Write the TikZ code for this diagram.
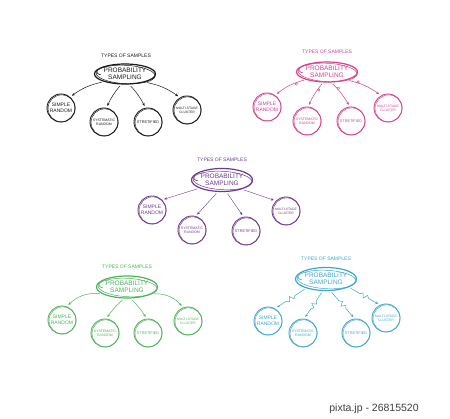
\documentclass[tikz,border=0pt]{standalone}
\usepackage{fontspec}
\setmainfont{Liberation Sans}
\usetikzlibrary{shapes.geometric,arrows.meta,decorations.markings,calc}
\definecolor{cblack}{HTML}{1A1A1A}
\definecolor{cpink}{HTML}{D4418E}
\definecolor{cpurple}{HTML}{6E3A91}
\definecolor{cgreen}{HTML}{4DB35A}
\definecolor{cblue}{HTML}{3FA6D4}
\tikzset{
 bub/.style={circle,draw,line width=0.9pt,minimum size=28pt,inner sep=0pt,align=center,font=\fontsize{5}{5.6}\selectfont},
 smallbub/.style={bub,font=\fontsize{3.5}{4.1}\selectfont},
 multibub/.style={bub,font=\fontsize{3.3}{3.9}\selectfont},
 strbub/.style={bub,font=\fontsize{3.8}{4.4}\selectfont},
 mainnode/.style={ellipse,draw,line width=1.2pt,minimum width=61pt,minimum height=20pt,inner sep=0pt,align=center,font=\fontsize{6.5}{7.2}\selectfont},
 titlenode/.style={font=\fontsize{5}{6}\selectfont},
 conn/.style={line width=0.5pt,shorten <=2pt,shorten >=2pt,-{Stealth[length=3pt,width=2.5pt]}},
 ring/.style={line width=0.4pt},
 curl/.style={postaction={decorate},decoration={markings,mark=at position 0.3 with {\draw[line width=0.4pt] (0,1.2pt) circle (1.2pt);}}},
}
\newcommand\sketch[2]{%
  \draw[ring,#2] ([shift={(0.6pt,-0.4pt)}]#1.center) circle (13.5pt);}
\newcommand\sketchmain[2]{%
  \draw[line width=0.5pt,#2] ([shift={(0.6pt,-0.5pt)}]#1.center) ellipse [x radius=29.5pt,y radius=9.2pt,rotate=-3];
  \draw[line width=0.6pt,#2] ([shift={(3pt,3pt)}]#1.west) arc[start angle=170,end angle=290,radius=3pt];}
% lightning connector: #1 start, #2 end
\newcommand\bolt[2]{%
  \draw[conn] (#1) -- ($(#1)!0.36!(#2)$) -- ($(#1)!0.43!(#2)!2.2pt!90:(#2)$)
    -- ($(#1)!0.5!(#2)!2.2pt!-90:(#2)$) -- ($(#1)!0.57!(#2)!2.2pt!90:(#2)$)
    -- ($(#1)!0.64!(#2)$) -- (#2);}
\begin{document}
\begin{tikzpicture}[x=1pt,y=-1pt]
\useasboundingbox[fill=white] (0,0) rectangle (450,419);

% ---------- panel 1 black
\begin{scope}[cblack, every node/.append style={text=cblack}]
\node[titlenode] (t1) at (126,56) {TYPES OF SAMPLES};
\node[mainnode] (e1) at (125,74) {PROBABILITY\\SAMPLING};
\node[bub] (s1) at (61,108) {SIMPLE\\RANDOM};
\node[smallbub] (y1) at (104,122) {SYSTEMATIC\\RANDOM};
\node[strbub] (r1) at (148,122) {STRETIFIED};
\node[multibub] (m1) at (187,110) {MULTI-STAGE\\CLUSTER};
\sketchmain{e1}{cblack}
\sketch{s1}{cblack}\sketch{y1}{cblack}\sketch{r1}{cblack}\sketch{m1}{cblack}
\draw[conn] (e1.200) to[bend right=12] (s1.50);
\draw[conn] (e1.250) to[bend right=8] (y1.80);
\draw[conn] (e1.292) to[bend left=8] (r1.100);
\draw[conn] (e1.338) to[bend left=12] (m1.120);
\end{scope}

% ---------- panel 2 pink
\begin{scope}[cpink, every node/.append style={text=cpink}]
\node[titlenode] (t2) at (327,52) {TYPES OF SAMPLES};
\node[mainnode] (e2) at (327,72) {PROBABILITY\\SAMPLING};
\node[bub] (s2) at (267,107) {SIMPLE\\RANDOM};
\node[smallbub] (y2) at (307,121) {SYSTEMATIC\\RANDOM};
\node[strbub] (r2) at (351,121) {STRETIFIED};
\node[multibub] (m2) at (388,108) {MULTI-STAGE\\CLUSTER};
\sketchmain{e2}{cpink}
\sketch{s2}{cpink}\sketch{y2}{cpink}\sketch{r2}{cpink}\sketch{m2}{cpink}
\draw[conn,curl] (e2.200) to[bend right=12] (s2.55);
\draw[conn,curl] (e2.250) to[bend right=8] (y2.85);
\draw[conn,curl] (e2.292) to[bend left=8] (r2.95);
\draw[conn,curl] (e2.338) to[bend left=12] (m2.120);
\end{scope}

% ---------- panel 3 purple
\begin{scope}[cpurple, every node/.append style={text=cpurple}]
\node[titlenode] (t3) at (222,160) {TYPES OF SAMPLES};
\node[mainnode,minimum height=23pt] (e3) at (222,180) {PROBABILITY\\SAMPLING};
\node[bub] (s3) at (152,210) {SIMPLE\\RANDOM};
\node[smallbub] (y3) at (192,230) {SYSTEMATIC\\RANDOM};
\node[strbub] (r3) at (246,231) {STRETIFIED};
\node[multibub] (m3) at (286,211) {MULTI-STAGE\\CLUSTER};
\sketchmain{e3}{cpurple}
\sketch{s3}{cpurple}\sketch{y3}{cpurple}\sketch{r3}{cpurple}\sketch{m3}{cpurple}
\draw[conn,line width=0.4pt] (e3.200) -- (s3.45);
\draw[conn,line width=0.4pt] (e3.250) -- (y3.75);
\draw[conn,line width=0.4pt] (e3.290) -- (r3.100);
\draw[conn,line width=0.4pt] (e3.335) -- (m3.135);
\end{scope}

% ---------- panel 4 green
\begin{scope}[cgreen, every node/.append style={text=cgreen}]
\node[titlenode] (t4) at (127,267) {TYPES OF SAMPLES};
\node[mainnode,minimum height=22pt] (e4) at (127,287) {PROBABILITY\\SAMPLING};
\node[bub] (s4) at (62,320) {SIMPLE\\RANDOM};
\node[smallbub] (y4) at (105,333) {SYSTEMATIC\\RANDOM};
\node[strbub] (r4) at (148,333) {STRETIFIED};
\node[multibub] (m4) at (188,321) {MULTI-STAGE\\CLUSTER};
\sketchmain{e4}{cgreen}
\sketch{s4}{cgreen}\sketch{y4}{cgreen}\sketch{r4}{cgreen}\sketch{m4}{cgreen}
\draw[conn] (e4.195) to[bend right=25] (s4.70);
\draw[conn] (e4.255) to[bend right=6] (y4.85);
\draw[conn] (e4.288) to[bend left=6] (r4.95);
\draw[conn] (e4.345) to[bend left=25] (m4.110);
\end{scope}

% ---------- panel 5 blue
\begin{scope}[cblue, every node/.append style={text=cblue}]
\node[titlenode] (t5) at (326,259) {TYPES OF SAMPLES};
\node[mainnode,minimum height=23pt] (e5) at (326,279) {PROBABILITY\\SAMPLING};
\node[bub] (s5) at (268,321) {SIMPLE\\RANDOM};
\node[smallbub] (y5) at (303,333) {SYSTEMATIC\\RANDOM};
\node[strbub] (r5) at (356,333) {STRETIFIED};
\node[multibub] (m5) at (386,318) {MULTI-STAGE\\CLUSTER};
\sketchmain{e5}{cblue}
\sketch{s5}{cblue}\sketch{y5}{cblue}\sketch{r5}{cblue}\sketch{m5}{cblue}
\bolt{e5.205}{s5.60}
\bolt{e5.255}{y5.85}
\bolt{e5.290}{r5.95}
\bolt{e5.340}{m5.115}
\end{scope}

\node[text=black!75,font=\fontsize{10.5}{12}\selectfont] (wm) at (374,409) {pixta.jp - 26815520};
\end{tikzpicture}
\end{document}
